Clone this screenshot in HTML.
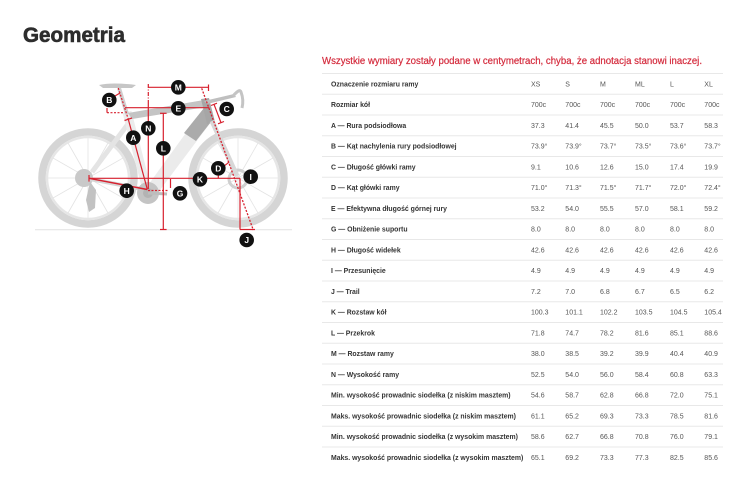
<!DOCTYPE html>
<html><head><meta charset="utf-8"><style>
html,body{margin:0;padding:0;background:#fff;}
svg{display:block;}
text{font-family:"Liberation Sans","DejaVu Sans",sans-serif;}
.l{font-size:6.9px;font-weight:bold;fill:#333;}
.v{font-size:7px;fill:#555;}
</style></head><body>
<svg width="750" height="483" viewBox="0 0 750 483" xmlns="http://www.w3.org/2000/svg">
<rect width="750" height="483" fill="#fff"/>
<text x="23" y="42" font-size="21" font-weight="bold" fill="#2d2d2d" stroke="#2d2d2d" stroke-width="0.6" textLength="102" lengthAdjust="spacingAndGlyphs">Geometria</text>

<!-- BIKE -->
<g>
<line x1="35" y1="229.8" x2="292" y2="229.8" stroke="#e2e2e2" stroke-width="1"/>
<g fill="none">
<circle cx="88" cy="178" r="46" stroke="#d5d5d5" stroke-width="7.5"/>
<circle cx="88" cy="178" r="41" stroke="#e6e6e6" stroke-width="2.5"/>
<circle cx="238" cy="178" r="46" stroke="#d5d5d5" stroke-width="7.5"/>
<circle cx="238" cy="178" r="41" stroke="#e6e6e6" stroke-width="2.5"/>
</g>
<g stroke="#e3e3e3" stroke-width="0.8">
<line x1="88" y1="178" x2="88" y2="138"/><line x1="88" y1="178" x2="108" y2="143"/><line x1="88" y1="178" x2="123" y2="158"/><line x1="88" y1="178" x2="128" y2="178"/><line x1="88" y1="178" x2="123" y2="198"/><line x1="88" y1="178" x2="108" y2="213"/><line x1="88" y1="178" x2="88" y2="218"/><line x1="88" y1="178" x2="68" y2="213"/><line x1="88" y1="178" x2="53" y2="198"/><line x1="88" y1="178" x2="48" y2="178"/><line x1="88" y1="178" x2="53" y2="158"/><line x1="88" y1="178" x2="68" y2="143"/>
<line x1="238" y1="178" x2="238" y2="138"/><line x1="238" y1="178" x2="258" y2="143"/><line x1="238" y1="178" x2="273" y2="158"/><line x1="238" y1="178" x2="278" y2="178"/><line x1="238" y1="178" x2="273" y2="198"/><line x1="238" y1="178" x2="258" y2="213"/><line x1="238" y1="178" x2="238" y2="218"/><line x1="238" y1="178" x2="218" y2="213"/><line x1="238" y1="178" x2="203" y2="198"/><line x1="238" y1="178" x2="198" y2="178"/><line x1="238" y1="178" x2="203" y2="158"/><line x1="238" y1="178" x2="218" y2="143"/>
</g>
<circle cx="84" cy="178" r="9" fill="#c9c9c9"/>
<path d="M90 182 L96 190 L95 208 L89 212 L86 200 Z" fill="#c2c2c2"/>
<circle cx="238" cy="179" r="9" fill="none" stroke="#cfcfcf" stroke-width="3"/>
<line x1="90" y1="179" x2="147" y2="190" stroke="#d6d6d6" stroke-width="4"/>
<line x1="92" y1="172" x2="131" y2="120" stroke="#e4e4e4" stroke-width="5"/>
<line x1="127" y1="112" x2="146" y2="186" stroke="#ececec" stroke-width="9"/>
<line x1="119" y1="88" x2="127" y2="114" stroke="#cfcfcf" stroke-width="4"/>
<path d="M99 85 Q112 82 136 85 L132 88 Q115 88 103 88 Z" fill="#c6c6c6"/>
<path d="M128 113 L204 100 L206 107 L132 119 Z" fill="#c4c4c4"/>
<path d="M204 108 L214 118 L160 190 L146 188 Z" fill="#ebebeb"/>
<path d="M204 108 L214 118 L196 141 L184 133 Z" fill="#ababab"/>
<path d="M201 99 L209 98 L215 122 L207 124 Z" fill="#a6a6a6"/>
<line x1="212" y1="121" x2="237" y2="176" stroke="#d8d8d8" stroke-width="5"/>
<path d="M204 101 L234 94 L236 97 L207 104 Z" fill="#bfbfbf"/>
<path d="M233 96 Q240 88 241 92 Q244 100 242 108" fill="none" stroke="#c4c4c4" stroke-width="3"/>
<circle cx="148" cy="193" r="11" fill="#c4c4c4"/>
<circle cx="148" cy="193" r="5" fill="#b3b3b3"/>
<line x1="148" y1="193" x2="167" y2="194" stroke="#bdbdbd" stroke-width="3"/>
</g>

<!-- RED GEOMETRY -->
<g stroke="#d7202e" fill="none" stroke-width="1.2">
<line x1="148" y1="87.3" x2="208.5" y2="87.3"/>
<line x1="208.5" y1="84.5" x2="208.5" y2="91"/>
<line x1="148.3" y1="84" x2="148.3" y2="103" stroke-dasharray="4,1.5,1,1.5"/>
<line x1="148.3" y1="103" x2="148.3" y2="189"/>
<line x1="125" y1="107.7" x2="209.3" y2="107.7"/>
<line x1="107" y1="108" x2="107" y2="112.7"/>
<line x1="107" y1="112.7" x2="123" y2="112.7" stroke-dasharray="2,1.5"/>
<line x1="115" y1="96" x2="120" y2="93"/>
<line x1="118.3" y1="88" x2="128.3" y2="119.3" stroke-dasharray="2,1.5"/>
<line x1="128.3" y1="119.3" x2="147.3" y2="189.3"/>
<line x1="124.5" y1="120.5" x2="132" y2="118"/>
<line x1="163.3" y1="113.3" x2="163.3" y2="229.5"/>
<line x1="160" y1="113.3" x2="166.6" y2="113.3"/>
<line x1="160" y1="229.5" x2="166.6" y2="229.5"/>
<line x1="201.7" y1="88.3" x2="253.3" y2="230" stroke-dasharray="2,1.5" stroke-width="1.3"/>
<line x1="214" y1="104.3" x2="221" y2="122.7"/>
<line x1="211" y1="105.5" x2="217" y2="103.2"/>
<line x1="218" y1="123.8" x2="224" y2="121.5"/>
<line x1="89" y1="178.3" x2="240" y2="178.3"/>
<line x1="89" y1="175" x2="89" y2="181.6"/>
<line x1="89" y1="178.3" x2="147.3" y2="189.5" stroke-width="1.5"/>
<line x1="148" y1="190.5" x2="169" y2="190.5" stroke-dasharray="2,1.5"/>
<line x1="170.5" y1="179" x2="170.5" y2="188"/>
<line x1="218.3" y1="172" x2="218.3" y2="178"/>
<path d="M224 166 Q227 164 229 162"/>
<line x1="240" y1="178.3" x2="240" y2="229.5"/>
<line x1="240" y1="229.5" x2="255" y2="229.5"/>
</g>
<g font-size="8.5" font-weight="bold" fill="#fff" text-anchor="middle">
<circle cx="178.3" cy="87.3" r="7.3" fill="#111"/><text x="178.3" y="90.4">M</text>
<circle cx="178.3" cy="108.3" r="7.3" fill="#111"/><text x="178.3" y="111.4">E</text>
<circle cx="109.3" cy="100" r="7.3" fill="#111"/><text x="109.3" y="103.1">B</text>
<circle cx="226.7" cy="109" r="7.3" fill="#111"/><text x="226.7" y="112.1">C</text>
<circle cx="148.3" cy="128.3" r="7.3" fill="#111"/><text x="148.3" y="131.4">N</text>
<circle cx="133.3" cy="137.7" r="7.3" fill="#111"/><text x="133.3" y="140.8">A</text>
<circle cx="163.3" cy="148.3" r="7.3" fill="#111"/><text x="163.3" y="151.4">L</text>
<circle cx="218.3" cy="168.3" r="7.3" fill="#111"/><text x="218.3" y="171.4">D</text>
<circle cx="200" cy="179.3" r="7.3" fill="#111"/><text x="200" y="182.4">K</text>
<circle cx="250.7" cy="176.7" r="7.3" fill="#111"/><text x="250.7" y="179.8">I</text>
<circle cx="126.7" cy="190.7" r="7.3" fill="#111"/><text x="126.7" y="193.8">H</text>
<circle cx="180" cy="193.3" r="7.3" fill="#111"/><text x="180" y="196.4">G</text>
<circle cx="246.7" cy="240" r="7.3" fill="#111"/><text x="246.7" y="243.1">J</text>
</g>

<text x="322" y="64" font-size="9.8" fill="#d42a3c" stroke="#d42a3c" stroke-width="0.2" textLength="380" lengthAdjust="spacingAndGlyphs">Wszystkie wymiary zostały podane w centymetrach, chyba, że adnotacja stanowi inaczej.</text>

<g stroke="#e8e8e8" stroke-width="1">
<line x1="322" x2="723" y1="73.5" y2="73.5"/>
<line x1="322" x2="723" y1="94.3" y2="94.3"/>
<line x1="322" x2="723" y1="115" y2="115"/>
<line x1="322" x2="723" y1="135.8" y2="135.8"/>
<line x1="322" x2="723" y1="156.5" y2="156.5"/>
<line x1="322" x2="723" y1="177.3" y2="177.3"/>
<line x1="322" x2="723" y1="198" y2="198"/>
<line x1="322" x2="723" y1="218.8" y2="218.8"/>
<line x1="322" x2="723" y1="239.5" y2="239.5"/>
<line x1="322" x2="723" y1="260.3" y2="260.3"/>
<line x1="322" x2="723" y1="281" y2="281"/>
<line x1="322" x2="723" y1="301.8" y2="301.8"/>
<line x1="322" x2="723" y1="322.5" y2="322.5"/>
<line x1="322" x2="723" y1="343.3" y2="343.3"/>
<line x1="322" x2="723" y1="364" y2="364"/>
<line x1="322" x2="723" y1="384.8" y2="384.8"/>
<line x1="322" x2="723" y1="405.5" y2="405.5"/>
<line x1="322" x2="723" y1="426.3" y2="426.3"/>
<line x1="322" x2="723" y1="447" y2="447"/>
</g>

<g class="l">
<text x="331" y="86.3">Oznaczenie rozmiaru ramy</text>
<text x="331" y="107">Rozmiar kół</text>
<text x="331" y="127.8">A — Rura podsiodłowa</text>
<text x="331" y="148.5">B — Kąt nachylenia rury podsiodłowej</text>
<text x="331" y="169.3">C — Długość główki ramy</text>
<text x="331" y="190">D — Kąt główki ramy</text>
<text x="331" y="210.8">E — Efektywna długość górnej rury</text>
<text x="331" y="231.5">G — Obniżenie suportu</text>
<text x="331" y="252.3">H — Długość widełek</text>
<text x="331" y="273">I — Przesunięcie</text>
<text x="331" y="293.8">J — Trail</text>
<text x="331" y="314.5">K — Rozstaw kół</text>
<text x="331" y="335.3">L — Przekrok</text>
<text x="331" y="356">M — Rozstaw ramy</text>
<text x="331" y="376.8">N — Wysokość ramy</text>
<text x="331" y="397.5">Min. wysokość prowadnic siodełka (z niskim masztem)</text>
<text x="331" y="418.3">Maks. wysokość prowadnic siodełka (z niskim masztem)</text>
<text x="331" y="439">Min. wysokość prowadnic siodełka (z wysokim masztem)</text>
<text x="331" y="459.8">Maks. wysokość prowadnic siodełka (z wysokim masztem)</text>
</g>
<g class="v">
<text y="86.3"><tspan x="531">XS</tspan><tspan x="565.3">S</tspan><tspan x="600">M</tspan><tspan x="635">ML</tspan><tspan x="670">L</tspan><tspan x="704.3">XL</tspan></text>
<text y="107"><tspan x="531">700c</tspan><tspan x="565.3">700c</tspan><tspan x="600">700c</tspan><tspan x="635">700c</tspan><tspan x="670">700c</tspan><tspan x="704.3">700c</tspan></text>
<text y="127.8"><tspan x="531">37.3</tspan><tspan x="565.3">41.4</tspan><tspan x="600">45.5</tspan><tspan x="635">50.0</tspan><tspan x="670">53.7</tspan><tspan x="704.3">58.3</tspan></text>
<text y="148.5"><tspan x="531">73.9°</tspan><tspan x="565.3">73.9°</tspan><tspan x="600">73.7°</tspan><tspan x="635">73.5°</tspan><tspan x="670">73.6°</tspan><tspan x="704.3">73.7°</tspan></text>
<text y="169.3"><tspan x="531">9.1</tspan><tspan x="565.3">10.6</tspan><tspan x="600">12.6</tspan><tspan x="635">15.0</tspan><tspan x="670">17.4</tspan><tspan x="704.3">19.9</tspan></text>
<text y="190"><tspan x="531">71.0°</tspan><tspan x="565.3">71.3°</tspan><tspan x="600">71.5°</tspan><tspan x="635">71.7°</tspan><tspan x="670">72.0°</tspan><tspan x="704.3">72.4°</tspan></text>
<text y="210.8"><tspan x="531">53.2</tspan><tspan x="565.3">54.0</tspan><tspan x="600">55.5</tspan><tspan x="635">57.0</tspan><tspan x="670">58.1</tspan><tspan x="704.3">59.2</tspan></text>
<text y="231.5"><tspan x="531">8.0</tspan><tspan x="565.3">8.0</tspan><tspan x="600">8.0</tspan><tspan x="635">8.0</tspan><tspan x="670">8.0</tspan><tspan x="704.3">8.0</tspan></text>
<text y="252.3"><tspan x="531">42.6</tspan><tspan x="565.3">42.6</tspan><tspan x="600">42.6</tspan><tspan x="635">42.6</tspan><tspan x="670">42.6</tspan><tspan x="704.3">42.6</tspan></text>
<text y="273"><tspan x="531">4.9</tspan><tspan x="565.3">4.9</tspan><tspan x="600">4.9</tspan><tspan x="635">4.9</tspan><tspan x="670">4.9</tspan><tspan x="704.3">4.9</tspan></text>
<text y="293.8"><tspan x="531">7.2</tspan><tspan x="565.3">7.0</tspan><tspan x="600">6.8</tspan><tspan x="635">6.7</tspan><tspan x="670">6.5</tspan><tspan x="704.3">6.2</tspan></text>
<text y="314.5"><tspan x="531">100.3</tspan><tspan x="565.3">101.1</tspan><tspan x="600">102.2</tspan><tspan x="635">103.5</tspan><tspan x="670">104.5</tspan><tspan x="704.3">105.4</tspan></text>
<text y="335.3"><tspan x="531">71.8</tspan><tspan x="565.3">74.7</tspan><tspan x="600">78.2</tspan><tspan x="635">81.6</tspan><tspan x="670">85.1</tspan><tspan x="704.3">88.6</tspan></text>
<text y="356"><tspan x="531">38.0</tspan><tspan x="565.3">38.5</tspan><tspan x="600">39.2</tspan><tspan x="635">39.9</tspan><tspan x="670">40.4</tspan><tspan x="704.3">40.9</tspan></text>
<text y="376.8"><tspan x="531">52.5</tspan><tspan x="565.3">54.0</tspan><tspan x="600">56.0</tspan><tspan x="635">58.4</tspan><tspan x="670">60.8</tspan><tspan x="704.3">63.3</tspan></text>
<text y="397.5"><tspan x="531">54.6</tspan><tspan x="565.3">58.7</tspan><tspan x="600">62.8</tspan><tspan x="635">66.8</tspan><tspan x="670">72.0</tspan><tspan x="704.3">75.1</tspan></text>
<text y="418.3"><tspan x="531">61.1</tspan><tspan x="565.3">65.2</tspan><tspan x="600">69.3</tspan><tspan x="635">73.3</tspan><tspan x="670">78.5</tspan><tspan x="704.3">81.6</tspan></text>
<text y="439"><tspan x="531">58.6</tspan><tspan x="565.3">62.7</tspan><tspan x="600">66.8</tspan><tspan x="635">70.8</tspan><tspan x="670">76.0</tspan><tspan x="704.3">79.1</tspan></text>
<text y="459.8"><tspan x="531">65.1</tspan><tspan x="565.3">69.2</tspan><tspan x="600">73.3</tspan><tspan x="635">77.3</tspan><tspan x="670">82.5</tspan><tspan x="704.3">85.6</tspan></text>
</g>
</svg>
</body></html>
